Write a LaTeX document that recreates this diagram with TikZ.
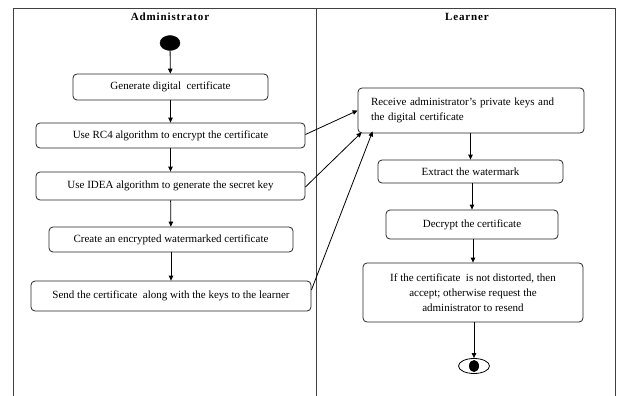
\documentclass[tikz,border=0pt]{standalone}
\usepackage{fontspec}
\setmainfont{Liberation Serif}
\usetikzlibrary{arrows.meta,calc,shapes.geometric}
\begin{document}
\begin{tikzpicture}[x=1pt,y=-1pt,
  box/.style={draw=black!85,line width=0.8pt,rounded corners=4pt,inner sep=0pt,font=\fontsize{11}{15}\selectfont},
  lane/.style={draw=black!75,line width=0.9pt},
  flow/.style={draw=black,line width=0.8pt,-{Triangle[length=5pt,width=4.5pt]}},
  head/.style={font=\fontsize{11}{13}\selectfont\bfseries\addfontfeatures{LetterSpace=8}}]
\useasboundingbox (0,0) rectangle (624,396);
% swimlanes
\draw[lane] (13,396) -- (13,8) -- (615,8) -- (615,396);
\draw[lane] (316,8) -- (316,396);
\node[head] (hA) at (170,17) {Administrator};
\node[head] (hL) at (467,17) {Learner};
% administrator lane
\node[fill=black,ellipse,minimum width=20pt,minimum height=15pt,inner sep=0pt,draw] (start) at (170,43) {};
\node[box,minimum width=195pt,minimum height=26pt] (b1) at (170.5,87) {Generate digital\ \ certificate};
\node[box,minimum width=269pt,minimum height=25pt] (b2) at (170.5,135.5) {Use RC4 algorithm to encrypt the certificate};
\node[box,minimum width=269pt,minimum height=28pt] (b3) at (170.5,186) {Use IDEA algorithm to generate the secret key};
\node[box,minimum width=244pt,minimum height=25pt] (b4) at (171,239.5) {Create an encrypted watermarked certificate};
\node[box,minimum width=280pt,minimum height=30pt] (b5) at (171,296) {Send the certificate\ \ along with the keys to the learner};
% learner lane
\node[box,minimum width=226pt,minimum height=45pt,text width=200pt,align=left] (r1) at (471,110.5) {Receive administrator’s private keys and\\the digital certificate};
\node[box,minimum width=185pt,minimum height=23pt] (r2) at (470.5,171.5) {Extract the watermark};
\node[box,minimum width=172pt,minimum height=29pt] (r3) at (472,224.5) {Decrypt the certificate};
\node[box,minimum width=220pt,minimum height=59pt,align=center] (r4) at (473,292.5) {If the certificate\ \ is not distorted, then\\accept; otherwise request the\\administrator to resend};
\node[draw,ellipse,line width=0.8pt,minimum width=31pt,minimum height=15pt,inner sep=0pt] (endo) at (474,366) {};
\node[fill=black,ellipse,minimum width=10pt,minimum height=12pt,inner sep=0pt] (endi) at (474,366) {};
% flows
\draw[flow] (start) -- (b1);
\draw[flow] (b1) -- (b2);
\draw[flow] (b2) -- (b3);
\draw[flow] (b3) -- (b4);
\draw[flow] (b4) -- (b5);
\draw[flow] (r1.south -| r2.north) -- (r2.north);
\draw[flow] (r2.south -| r3.north) -- (r3.north);
\draw[flow] (r3.south -| r4.north) -- (r4.north);
\draw[flow] (r4.south -| endo.north) -- (endo.north);
\draw[flow] ([yshift=1pt]b2.east) -- (r1.west);
\draw[flow] ([yshift=-1pt]b3.east) -- ($(r1.south west)+(4,-1)$);
\draw[flow] ([yshift=6pt]b5.east) -- ($(r1.south west)+(15,-2)$);
\end{tikzpicture}
\end{document}
